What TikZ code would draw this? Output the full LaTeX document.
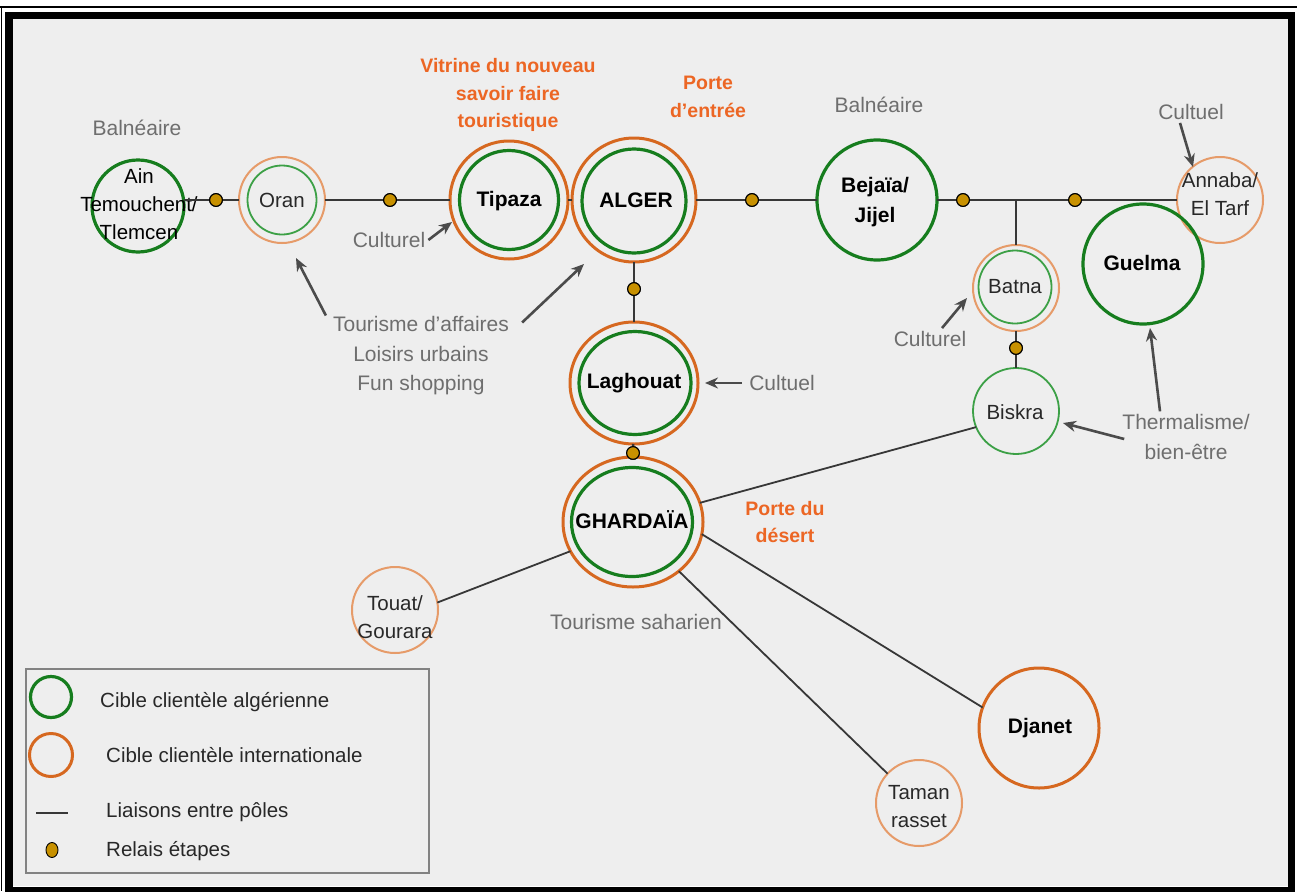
\documentclass[tikz,border=0pt]{standalone}
\usepackage{fontspec}
\setmainfont{Liberation Sans}
\usetikzlibrary{arrows.meta,shapes.geometric}
\definecolor{bg}{RGB}{238,238,238}
\definecolor{gdark}{RGB}{22,125,30}
\definecolor{glight}{RGB}{60,160,70}
\definecolor{odark}{RGB}{214,104,32}
\definecolor{olight}{RGB}{230,155,105}
\definecolor{otext}{RGB}{236,102,36}
\definecolor{linkc}{RGB}{55,55,55}
\definecolor{dotc}{RGB}{200,145,0}
\definecolor{labc}{RGB}{110,110,110}
\definecolor{darkt}{RGB}{40,40,40}
\definecolor{arrc}{RGB}{75,75,75}
\definecolor{legc}{RGB}{130,130,130}
\begin{document}
\begin{tikzpicture}[x=1pt,y=-1pt,
  pole/.style={circle, inner sep=0pt, outer sep=0pt},
  oval/.style={ellipse, inner sep=0pt, outer sep=0pt},
  gthick/.style={draw=gdark, line width=3.2pt},
  othick/.style={draw=odark, line width=3pt},
  gthin/.style={draw=glight, line width=1.8pt},
  othin/.style={draw=olight, line width=2pt},
  relay/.style={circle, draw=black, line width=0.9pt, fill=dotc, inner sep=0pt, minimum size=13pt},
  link/.style={draw=linkc, line width=2.6pt},
  slink/.style={draw=linkc, line width=1.8pt},
  arr/.style={draw=arrc, line width=2.6pt, -{Stealth[length=13pt, width=11pt]}},
  lab/.style={text=labc, font=\fontsize{21}{29.5}\selectfont, align=center, inner sep=3pt},
  olab/.style={text=otext, font=\fontsize{19.5}{27.5}\selectfont\bfseries, align=center, inner sep=3pt},
  btxt/.style={text=black, font=\fontsize{21}{30}\selectfont\bfseries, align=center, inner sep=0pt},
  ntxt/.style={text=darkt, font=\fontsize{20.5}{28}\selectfont, align=center, inner sep=0pt},
  legt/.style={text=darkt, font=\fontsize{20.5}{24}\selectfont, anchor=west, inner sep=0pt},
]
\useasboundingbox (0,0) rectangle (1297,891);
% frame
\fill[white] (0,0) rectangle (1297,891);
\fill[bg] (13,19) rectangle (1288,886);
\draw[line width=1.3pt] (0,7) -- (1297,7);
\draw[line width=1.3pt] (1.5,7) -- (1.5,891);
\draw[line width=7.5pt] (9,15.5) rectangle (1291.5,891);

% ---------- poles ----------
\node[pole, gthick, minimum size=92pt] (ain) at (138,206) {};
\node[ntxt, text=black] (ain-t) at (139,204) {Ain\\Temouchent/\\Tlemcen};

\node[pole, othin, minimum size=86pt] (oran) at (282,200) {};
\node[pole, gthin, minimum size=69pt] (oran-in) at (282,200) {};
\node[ntxt] (oran-t) at (282,200) {Oran};

\node[pole, othick, minimum size=118pt] (tipaza) at (509,200) {};
\node[pole, gthick, minimum size=99pt] (tipaza-in) at (509,200) {};
\node[btxt] (tipaza-t) at (509,201) {Tipaza};

\node[pole, othick, minimum size=124pt] (alger) at (634,200) {};
\node[pole, gthick, minimum size=104pt] (alger-in) at (634,201) {};
\node[btxt] (alger-t) at (636,200) {ALGER};

\node[pole, gthick, minimum size=120pt] (bejaia) at (877,200) {};
\node[btxt] (bejaia-t) at (875,202) {Bejaïa/\\Jijel};

\node[pole, othin, minimum size=86pt] (annaba) at (1220,200) {};
\node[ntxt] (annaba-t) at (1220,194) {Annaba/\\El Tarf};

\node[pole, gthick, minimum size=120pt] (guelma) at (1143,264) {};
\node[btxt] (guelma-t) at (1142,263) {Guelma};

\node[pole, othin, minimum size=86pt] (batna) at (1016,288) {};
\node[pole, gthin, minimum size=73pt] (batna-in) at (1015,287) {};
\node[ntxt] (batna-t) at (1015,287) {Batna};

\node[pole, gthin, minimum size=86pt] (biskra) at (1016,411) {};
\node[ntxt] (biskra-t) at (1015,412) {Biskra};

\node[oval, othick, minimum width=128pt, minimum height=122pt] (laghouat) at (634,383) {};
\node[oval, gthick, minimum width=112pt, minimum height=103pt] (laghouat-in) at (635,383) {};
\node[btxt] (laghouat-t) at (634,383) {Laghouat};

\node[oval, othick, minimum width=140pt, minimum height=130pt] (ghardaia) at (633,522) {};
\node[oval, gthick, minimum width=121pt, minimum height=109pt] (ghardaia-in) at (632,522) {};
\node[btxt] (ghardaia-t) at (632,520) {GHARDAÏA};

\node[pole, othin, minimum size=86pt] (touat) at (395,610) {};
\node[ntxt] (touat-t) at (395,617) {Touat/\\Gourara};

\node[pole, othick, minimum size=120pt] (djanet) at (1039,728) {};
\node[btxt] (djanet-t) at (1040,728) {Djanet};

\node[pole, othin, minimum size=86pt] (taman) at (919,803) {};
\node[ntxt] (taman-t) at (919,807) {Taman\\rasset};

% relays (positions)
\node[relay] (d1) at (216,200) {};
\node[relay] (d2) at (390,200) {};
\node[relay] (d3) at (752,200) {};
\node[relay] (d4) at (634,289) {};
\node[relay] (d5) at (633,453) {};
\node[relay] (d6) at (963,200) {};
\node[relay] (d7) at (1075,200) {};
\node[relay] (d8) at (1016,348) {};
\coordinate (j) at (1016,200);

% ---------- links ----------
\draw[link] (ain.east |- d1) -- (d1) -- (oran);
\draw[link] (oran) -- (d2) -- (tipaza);
\draw[link] (tipaza) -- (alger);
\draw[link] (alger) -- (d3) -- (bejaia);
\draw[link] (bejaia) -- (d6) -- (j) -- (d7) -- (annaba);
\draw[link] (j) -- (batna);
\draw[link] (batna) -- (d8) -- (biskra);
\draw[link] (alger) -- (d4) -- (laghouat);
\draw[link] (laghouat) -- (d5) -- (ghardaia);
\draw[slink] (biskra.202) -- (ghardaia.16);
\draw[slink] (ghardaia.205) -- (touat.10);
\draw[slink] (ghardaia.-10) -- (djanet.160);
\draw[slink] (ghardaia.-47) -- (taman.137);
% relays on top of the links
\foreach \d in {d1,d2,d3,d4,d5,d6,d7,d8}{
  \fill[dotc] (\d) circle (5.8pt);
  \draw[black, line width=0.9pt] (\d) circle (6.3pt);
}

% ---------- labels ----------
\node[lab] (baln1) at (137,128) {Balnéaire};
\node[olab] (vitrine) at (508,95) {Vitrine du nouveau\\savoir faire\\touristique};
\node[olab] (porte1) at (708,97) {Porte\\d’entrée};
\node[lab] (baln2) at (879,105) {Balnéaire};
\node[lab] (cult4) at (1191,112) {Cultuel};
\node[lab] (cult1) at (389,240) {Culturel};
\node[lab] (tour) at (421,356) {Tourisme d’affaires\\Loisirs urbains\\Fun shopping};
\node[lab] (cult2) at (782,383) {Cultuel};
\node[lab] (cult3) at (930,339) {Culturel};
\node[lab] (therm) at (1186,437) {Thermalisme/\\bien-être};
\node[olab] (porte2) at (785,522) {Porte du\\désert};
\node[lab] (sahar) at (636,622) {Tourisme saharien};

% arrow tips
\coordinate (tA) at (452,222);
\coordinate (tO) at (296,258);
\coordinate (tAl) at (584,264);
\coordinate (tL) at (705,383);
\coordinate (tB) at (967,298);
\coordinate (tAn) at (1193,167);
\coordinate (tG) at (1150,328);
\coordinate (tBi) at (1063,423);

\draw[arr] (cult1.east) -- (tA);
\draw[arr] ([xshift=-4pt,yshift=-2pt]tour.north west) -- (tO);
\draw[arr] ([xshift=10pt,yshift=-9pt]tour.north east) -- (tAl);
\draw[arr] ([xshift=-4pt]cult2.west) -- (tL);
\draw[arr] ([xshift=12pt]cult3.north) -- (tB);
\draw[arr] ([xshift=-11pt]cult4.south) -- (tAn);
\draw[arr] ([xshift=-26pt]therm.north) -- (tG);
\draw[arr] ([xshift=5pt,yshift=-2pt]therm.west) -- (tBi);

% ---------- legend ----------
\node[draw=legc, line width=1.5pt, minimum width=403pt, minimum height=204pt, inner sep=0pt] (legend) at (227.5,771) {};
\node[pole, gthick, minimum size=41pt] (lg1) at (51,697) {};
\node[pole, othick, minimum size=43pt] (lg2) at (51,755) {};
\coordinate (lg3a) at (36,813);
\coordinate (lg3b) at (68,813);
\draw[link] (lg3a) -- (lg3b);
\node[ellipse, draw=black, line width=0.9pt, fill=dotc, minimum width=12pt, minimum height=15pt, inner sep=0pt] (lg4) at (52,850) {};
\node[legt] (lt1) at (100,702) {Cible clientèle algérienne};
\node[legt] (lt2) at (106,755) {Cible clientèle internationale};
\node[legt] (lt3) at (106,812) {Liaisons entre pôles};
\node[legt] (lt4) at (106,851) {Relais étapes};
\end{tikzpicture}
\end{document}
